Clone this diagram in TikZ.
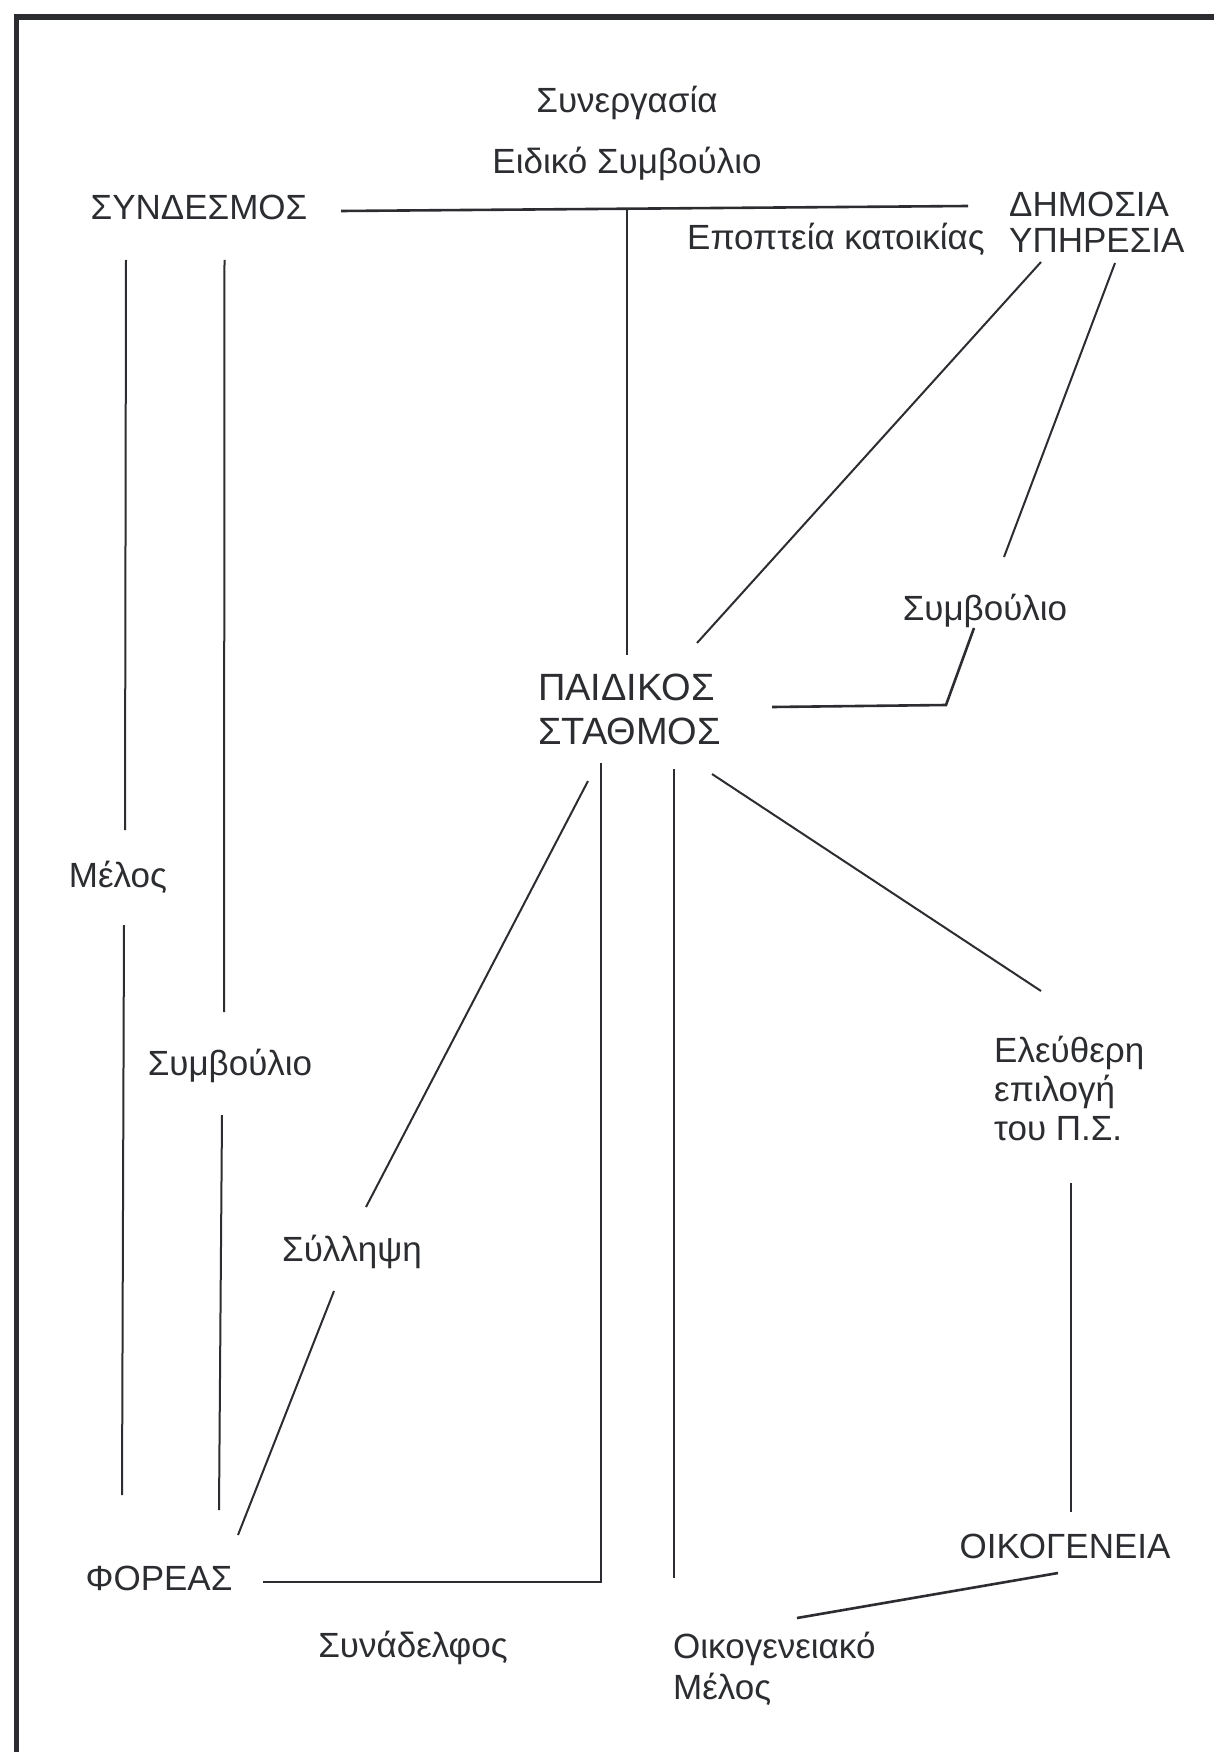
\documentclass[tikz,border=0pt]{standalone}
\usepackage{fontspec}
\setmainfont{Liberation Sans}
\definecolor{ink}{HTML}{2B2D30}
\begin{document}
\begin{tikzpicture}[x=1pt,y=-1pt,
  lbl/.style={inner sep=0pt,anchor=base,text=ink,font=\fontsize{35}{41}\selectfont},
  lbll/.style={lbl,anchor=base west,align=left},
  conn/.style={draw=ink,line width=2pt},
  hconn/.style={draw=ink,line width=2.6pt}]
\useasboundingbox[fill=white] (0,0) rectangle (1214,1752);
% frame
\draw[ink,line width=5.5pt] (14,17) -- (1214,17);
\draw[ink,line width=5pt] (16.5,15) -- (16.5,1752);

% labels (multi-line nodes are anchored at the baseline of their last line)
\node[lbl] (syn) at (627,113) {Συνεργασία};
\node[lbl] (eid) at (627,174) {Ειδικό Συμβούλιο};
\node[lbl] (sdm) at (199,220) {ΣΥΝΔΕΣΜΟΣ};
\node[lbll,font=\fontsize{35}{36}\selectfont] (dim) at (1009,253) {ΔΗΜΟΣΙΑ\\ΥΠΗΡΕΣΙΑ};
\node[lbll] (epo) at (687,250) {Εποπτεία κατοικίας};
\node[lbl] (smb1) at (985,620) {Συμβούλιο};
\node[lbll,font=\fontsize{38}{44}\selectfont] (ps) at (538,744) {ΠΑΙΔΙΚΟΣ\\ΣΤΑΘΜΟΣ};
\node[lbl] (mel) at (118,887) {Μέλος};
\node[lbl] (smb2) at (230,1075) {Συμβούλιο};
\node[lbll,font=\fontsize{35}{39}\selectfont] (ele) at (994,1140) {Ελεύθερη\\επιλογή\\του Π.Σ.};
\node[lbl] (syl) at (352,1261) {Σύλληψη};
\node[lbl] (oik) at (1065,1558) {ΟΙΚΟΓΕΝΕΙΑ};
\node[lbl] (for) at (159,1590) {ΦΟΡΕΑΣ};
\node[lbl] (syna) at (413,1657) {Συνάδελφος};
\node[lbll,font=\fontsize{35}{41}\selectfont] (oim) at (673,1699) {Οικογενειακό\\Μέλος};

% connector end points
\coordinate (sdmR) at (341,211);
\coordinate (dimL) at (968,206);
\coordinate (tJ) at (627,209);
\coordinate (psT) at (627,655);
\coordinate (sdmA) at (126,260);
\coordinate (melT) at (125,830);
\coordinate (melB) at (124,925);
\coordinate (forA) at (122,1495);
\coordinate (sdmB) at (224.5,260);
\coordinate (smbT) at (224,1012);
\coordinate (smbB) at (222,1115);
\coordinate (forB) at (219,1510);
\coordinate (dimA) at (1041,262);
\coordinate (psA) at (697,643);
\coordinate (dimB) at (1115,263);
\coordinate (smbA) at (1004,557);
\coordinate (smbC) at (974,628);
\coordinate (smbK) at (946,705);
\coordinate (psR) at (772,707);
\coordinate (psB) at (588,781);
\coordinate (sylT) at (366,1207);
\coordinate (psC) at (601,763);
\coordinate (fK) at (601,1582);
\coordinate (forR) at (263,1582);
\coordinate (psD) at (674,769);
\coordinate (oimT) at (674,1578);
\coordinate (psE) at (712,774);
\coordinate (eleT) at (1041,991);
\coordinate (eleB) at (1071,1183);
\coordinate (oikT) at (1071,1512);
\coordinate (sylB) at (334,1291);
\coordinate (forT) at (238,1535);
\coordinate (oikB) at (1058,1573);
\coordinate (oimR) at (797,1618);

% connectors
\draw[hconn] (sdmR) -- (dimL);
\draw[conn] (tJ) -- (psT);
\draw[conn] (sdmA) -- (melT);
\draw[conn] (melB) -- (forA);
\draw[conn] (sdmB) -- (smbT);
\draw[conn] (smbB) -- (forB);
\draw[conn] (dimA) -- (psA);
\draw[conn] (dimB) -- (smbA);
\draw[hconn] (smbC) -- (smbK) -- (psR);
\draw[conn] (psB) -- (sylT);
\draw[hconn] (psC) -- (fK) -- (forR);
\draw[conn] (psD) -- (oimT);
\draw[conn] (psE) -- (eleT);
\draw[conn] (eleB) -- (oikT);
\draw[conn] (sylB) -- (forT);
\draw[hconn] (oikB) -- (oimR);
\end{tikzpicture}
\end{document}
